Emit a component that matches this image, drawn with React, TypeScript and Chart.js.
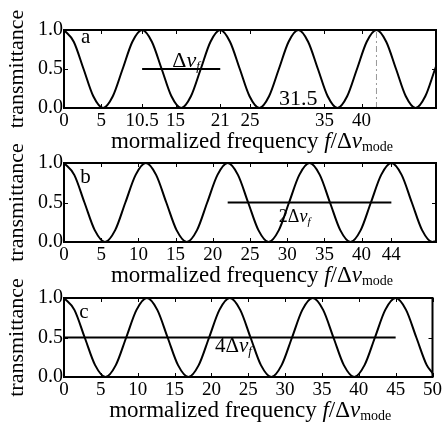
import React, { useEffect, useRef } from "react";
import { Chart, registerables } from "chart.js";
Chart.register(...registerables);

const SERIF = '"Liberation Serif", "Times New Roman", serif';

// ---- Panel a ----
const aFreq = [0, 1.31, 2.63, 3.94, 5.25, 6.56, 7.88, 9.19, 10.5, 11.81, 13.13, 14.44, 15.75, 17.06, 18.38, 19.69, 21, 22.31, 23.63, 24.94, 26.25, 27.56, 28.88, 30.19, 31.5, 32.81, 34.13, 35.44, 36.75, 38.06, 39.38, 40.69, 42, 43.31, 44.63, 45.94, 47.25, 48.56, 49.88, 50];
const aTrans = [1, 0.85, 0.5, 0.15, 0, 0.15, 0.5, 0.85, 1, 0.85, 0.5, 0.15, 0, 0.15, 0.5, 0.85, 1, 0.85, 0.5, 0.15, 0, 0.15, 0.5, 0.85, 1, 0.85, 0.5, 0.15, 0, 0.15, 0.5, 0.85, 1, 0.85, 0.5, 0.15, 0, 0.15, 0.5, 0.53];
const aTickValues = [0, 5, 10.5, 15, 21, 25, 35, 40];
const aBarFreq = [10.5, 21];
const aBarTrans = [0.5, 0.5];
const aMarkFreq = [42, 42];
const aMarkTrans = [0, 1];

// ---- Panel b ----
const bFreq = [0, 1.38, 2.75, 4.13, 5.5, 6.88, 8.25, 9.63, 11, 12.38, 13.75, 15.13, 16.5, 17.88, 19.25, 20.63, 22, 23.38, 24.75, 26.13, 27.5, 28.88, 30.25, 31.63, 33, 34.38, 35.75, 37.13, 38.5, 39.88, 41.25, 42.63, 44, 45.38, 46.75, 48.13, 49.5, 50];
const bTrans = [1, 0.85, 0.5, 0.15, 0, 0.15, 0.5, 0.85, 1, 0.85, 0.5, 0.15, 0, 0.15, 0.5, 0.85, 1, 0.85, 0.5, 0.15, 0, 0.15, 0.5, 0.85, 1, 0.85, 0.5, 0.15, 0, 0.15, 0.5, 0.85, 1, 0.85, 0.5, 0.15, 0, 0.01];
const bTickValues = [0, 5, 10, 15, 20, 25, 30, 35, 40, 44];
const bBarFreq = [22, 44];
const bBarTrans = [0.5, 0.5];

// ---- Panel c ----
const cFreq = [0, 1.41, 2.81, 4.22, 5.63, 7.03, 8.44, 9.84, 11.25, 12.66, 14.06, 15.47, 16.88, 18.28, 19.69, 21.09, 22.5, 23.91, 25.31, 26.72, 28.13, 29.53, 30.94, 32.34, 33.75, 35.16, 36.56, 37.97, 39.38, 40.78, 42.19, 43.59, 45, 46.41, 47.81, 49.22, 50];
const cTrans = [1, 0.85, 0.5, 0.15, 0, 0.15, 0.5, 0.85, 1, 0.85, 0.5, 0.15, 0, 0.15, 0.5, 0.85, 1, 0.85, 0.5, 0.15, 0, 0.15, 0.5, 0.85, 1, 0.85, 0.5, 0.15, 0, 0.15, 0.5, 0.85, 1, 0.85, 0.5, 0.15, 0.05];
const cTickValues = [0, 5, 10, 15, 20, 25, 30, 35, 40, 45, 50];
const cBarFreq = [0, 45];
const cBarTrans = [0.5, 0.5];

const yTickValues = [0, 0.5, 1];

type Run = { t: string; italic?: boolean; sub?: boolean };
type Note = { runs: Run[]; x: number; y: number; size: number };

const xTitleRuns: Run[] = [
  { t: "mormalized frequency " },
  { t: "f", italic: true },
  { t: "/Δ" },
  { t: "ν", italic: true },
  { t: "mode", sub: true },
];

function dnu(prefix: string): Run[] {
  return [{ t: prefix + "Δ" }, { t: "ν", italic: true }, { t: "f", italic: true, sub: true }];
}

interface Panel {
  top: number;
  axisH: number;
  freq: number[];
  trans: number[];
  ticks: number[];
  barFreq: number[];
  barTrans: number[];
  markFreq?: number[];
  markTrans?: number[];
  letter: string;
  letterPos: [number, number];
  notes: Note[];
}

const panels: Panel[] = [
  {
    top: 0, axisH: 47, freq: aFreq, trans: aTrans, ticks: aTickValues,
    barFreq: aBarFreq, barTrans: aBarTrans, markFreq: aMarkFreq, markTrans: aMarkTrans,
    letter: "a", letterPos: [2.9, 0.83],
    notes: [
      { runs: dnu(""), x: 16.4, y: 0.53, size: 22 },
      { runs: [{ t: "31.5" }], x: 31.5, y: 0.04, size: 22 },
    ],
  },
  {
    top: 133, axisH: 46, freq: bFreq, trans: bTrans, ticks: bTickValues,
    barFreq: bBarFreq, barTrans: bBarTrans,
    letter: "b", letterPos: [2.9, 0.75],
    notes: [{ runs: dnu("2"), x: 31, y: 0.25, size: 18 }],
  },
  {
    top: 268, axisH: 46, freq: cFreq, trans: cTrans, ticks: cTickValues,
    barFreq: cBarFreq, barTrans: cBarTrans,
    letter: "c", letterPos: [2.7, 0.75],
    notes: [{ runs: dnu("4"), x: 23, y: 0.32, size: 21 }],
  },
];

function drawRuns(ctx: CanvasRenderingContext2D, runs: Run[], x: number, y: number, size: number) {
  const fontFor = (r: Run) => `${r.italic ? "italic " : ""}${r.sub ? Math.round(size * 0.6) : size}px ${SERIF}`;
  let total = 0;
  const widths = runs.map((r) => {
    ctx.font = fontFor(r);
    const w = ctx.measureText(r.t).width;
    total += w;
    return w;
  });
  let cx = x - total / 2;
  ctx.textAlign = "left";
  ctx.textBaseline = "alphabetic";
  ctx.fillStyle = "#000";
  runs.forEach((r, i) => {
    ctx.font = fontFor(r);
    ctx.fillText(r.t, cx, r.sub ? y + size * 0.15 : y);
    cx += widths[i];
  });
}

function makePlugin(p: Panel) {
  return {
    id: "decor",
    afterDatasetsDraw(chart: any) {
      const { ctx, chartArea } = chart;
      const xs = chart.scales.x;
      const ys = chart.scales.y;
      ctx.save();
      ctx.strokeStyle = "#000";
      ctx.lineWidth = 2;
      ctx.strokeRect(chartArea.left, chartArea.top, chartArea.right - chartArea.left, chartArea.bottom - chartArea.top);
      ctx.lineWidth = 1;
      ctx.beginPath();
      p.ticks.forEach((v) => {
        const px = Math.round(xs.getPixelForValue(v)) + 0.5;
        ctx.moveTo(px, chartArea.bottom);
        ctx.lineTo(px, chartArea.bottom - 4);
        ctx.moveTo(px, chartArea.top);
        ctx.lineTo(px, chartArea.top + 4);
      });
      yTickValues.forEach((v) => {
        const py = Math.round(ys.getPixelForValue(v)) + 0.5;
        ctx.moveTo(chartArea.left, py);
        ctx.lineTo(chartArea.left + 4, py);
        ctx.moveTo(chartArea.right, py);
        ctx.lineTo(chartArea.right - 4, py);
      });
      ctx.stroke();
      ctx.restore();
    },
    afterDraw(chart: any) {
      const { ctx, chartArea } = chart;
      const xs = chart.scales.x;
      const ys = chart.scales.y;
      ctx.save();
      drawRuns(ctx, xTitleRuns, (chartArea.left + chartArea.right) / 2 + 2, chartArea.bottom + 40, 23);
      drawRuns(ctx, [{ t: p.letter }], xs.getPixelForValue(p.letterPos[0]), ys.getPixelForValue(p.letterPos[1]), 21);
      p.notes.forEach((n) => {
        drawRuns(ctx, n.runs, xs.getPixelForValue(n.x), ys.getPixelForValue(n.y), n.size);
      });
      ctx.restore();
    },
  };
}

function PanelChart({ p }: { p: Panel }) {
  const ref = useRef<HTMLCanvasElement>(null);
  useEffect(() => {
    const datasets: any[] = [
      {
        data: p.freq.map((x, i) => ({ x, y: p.trans[i] })),
        borderColor: "#000", borderWidth: 2, pointRadius: 0,
        cubicInterpolationMode: "monotone", clip: false,
      },
      {
        data: p.barFreq.map((x, i) => ({ x, y: p.barTrans[i] })),
        borderColor: "#000", borderWidth: 2, pointRadius: 0,
      },
    ];
    if (p.markFreq && p.markTrans) {
      datasets.push({
        data: p.markFreq.map((x, i) => ({ x, y: p.markTrans![i] })),
        borderColor: "#999", borderWidth: 1, borderDash: [6, 3, 2, 3], pointRadius: 0,
      });
    }
    const chart = new Chart(ref.current!, {
      type: "line",
      data: { datasets },
      options: {
        animation: false,
        responsive: false,
        maintainAspectRatio: false,
        layout: { padding: { top: 30, right: 8, left: 0, bottom: 0 } },
        plugins: { legend: { display: false }, tooltip: { enabled: false } },
        scales: {
          x: {
            type: "linear", min: 0, max: 50,
            grid: { display: false, drawTicks: false },
            border: { display: false },
            afterBuildTicks: (s: any) => { s.ticks = p.ticks.map((v) => ({ value: v })); },
            afterFit: (s: any) => { s.height = p.axisH; },
            ticks: {
              autoSkip: false, maxRotation: 0, minRotation: 0, padding: 2, color: "#000",
              font: { family: SERIF, size: 19 },
              callback: (v: any) => String(v),
            },
          },
          y: {
            type: "linear", min: 0, max: 1,
            grid: { display: false, drawTicks: false },
            border: { display: false },
            afterBuildTicks: (s: any) => { s.ticks = yTickValues.map((v) => ({ value: v })); },
            afterFit: (s: any) => { s.width = 64; },
            ticks: {
              padding: 1, color: "#000",
              font: { family: SERIF, size: 20 },
              callback: (v: any) => Number(v).toFixed(1),
            },
            title: {
              display: true, text: "transmittance", color: "#000",
              font: { family: SERIF, size: 22 },
              padding: { top: 4, bottom: 0 },
            },
          },
        },
      } as any,
      plugins: [makePlugin(p)],
    });
    return () => chart.destroy();
  }, []);
  return (
    <canvas
      ref={ref}
      width={444}
      height={155}
      style={{ position: "absolute", left: 0, top: p.top, width: 444, height: 155 }}
    />
  );
}

export default function App() {
  return (
    <div style={{ position: "fixed", left: 0, top: 0, width: 444, height: 429, background: "#fff", overflow: "hidden" }}>
      {panels.map((p, i) => (
        <PanelChart key={i} p={p} />
      ))}
    </div>
  );
}
